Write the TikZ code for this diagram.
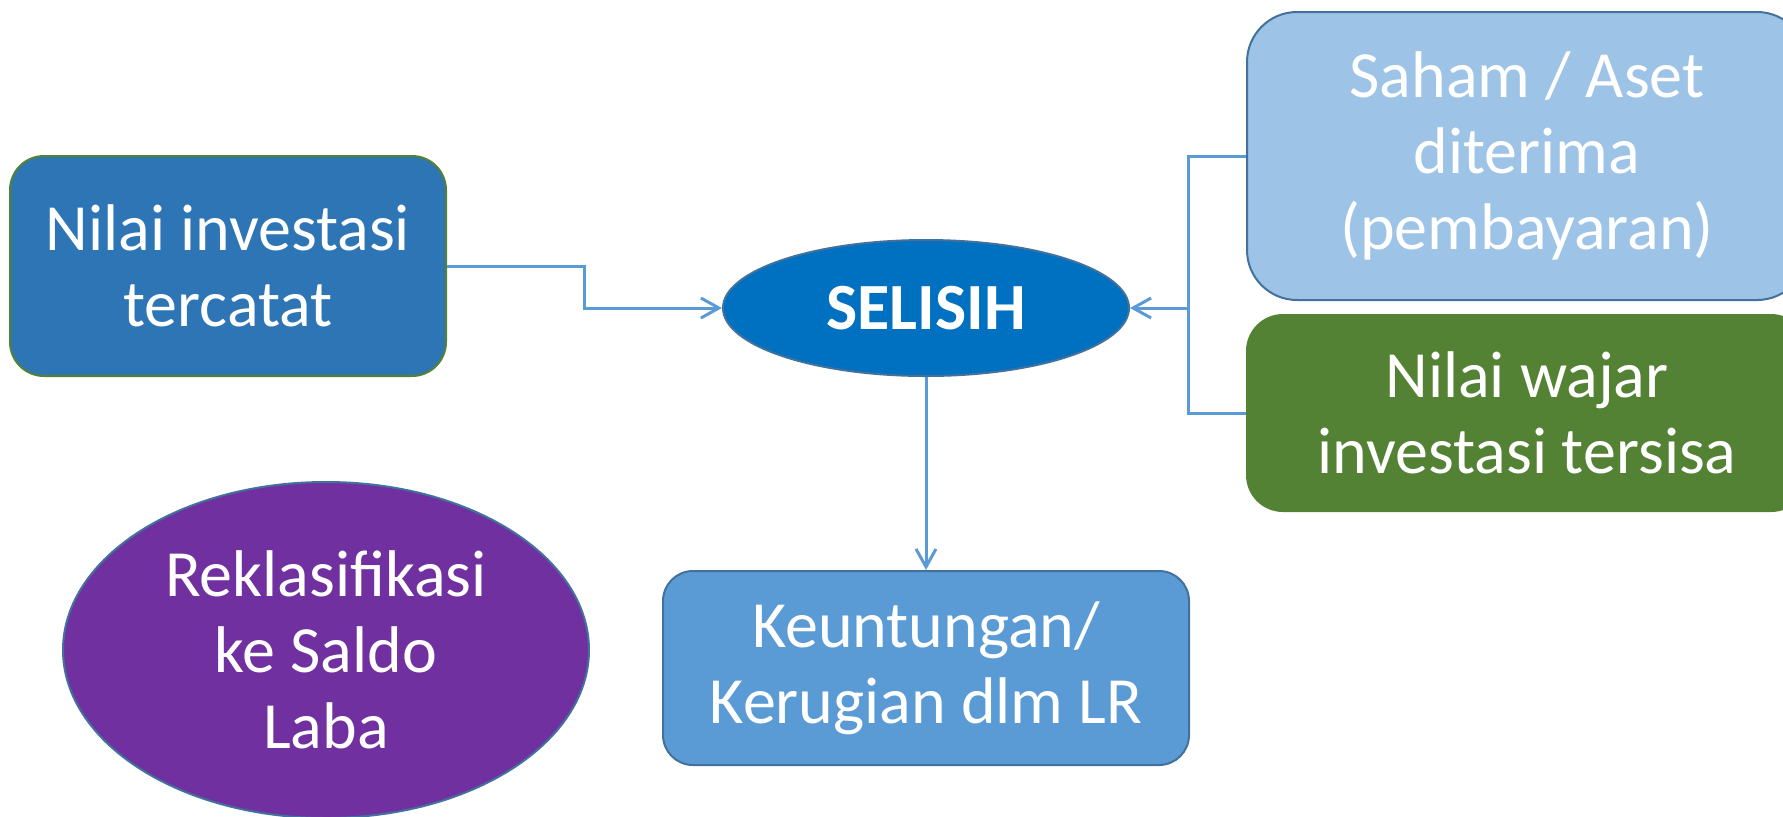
\documentclass[tikz,border=0pt]{standalone}
\usepackage{fontspec}
\setmainfont{Carlito}
\usetikzlibrary{shapes.geometric,arrows.meta}
\definecolor{boxblue}{HTML}{2E75B6}
\definecolor{selblue}{HTML}{0070C0}
\definecolor{lightblue}{HTML}{9DC3E6}
\definecolor{midblue}{HTML}{5B9BD5}
\definecolor{edgeblue}{HTML}{41719C}
\definecolor{leafgreen}{HTML}{548235}
\definecolor{plum}{HTML}{7030A0}
\begin{document}
\begin{tikzpicture}[x=0.5pt,y=-0.5pt,
    txt/.style={text=white,align=center,inner sep=0pt,font={\fontsize{33}{38}\selectfont}},
    card/.style={txt,rectangle,draw=edgeblue,line width=1pt},
    conn/.style={draw=midblue,line width=1.5pt},
    tip/.style={conn,-{Straight Barb[length=9pt,width=10pt]}}]
        \useasboundingbox (0,0) rectangle (1783,816);
        \clip (0,0) rectangle (1783,816);
        \node[card,fill=boxblue,draw=leafgreen,rounded corners=17pt,minimum width=218pt,minimum height=110pt] (tercatat) at (228,266) {Nilai investasi\\tercatat};
        \node[txt,ellipse,fill=selblue,draw=edgeblue,line width=1pt,minimum width=203pt,minimum height=68pt,font={\fontsize{33}{38}\selectfont\bfseries}] (selisih) at (926,308) {SELISIH};
        \node[card,fill=lightblue,rounded corners=25pt,minimum width=280pt,minimum height=144pt] (saham) at (1527,156) {Saham / Aset\\diterima\\(pembayaran)};
        \node[card,fill=leafgreen,draw=leafgreen,rounded corners=18pt,minimum width=280pt,minimum height=98pt] (wajar) at (1527,413) {Nilai wajar\\investasi tersisa};
        \node[card,fill=midblue,rounded corners=15pt,minimum width=263pt,minimum height=97pt] (untung) at (926,668) {Keuntungan/\\Kerugian dlm LR};
        \node[txt,ellipse,fill=plum,draw=edgeblue,line width=1pt,minimum width=263pt,minimum height=168pt] (reklas) at (326,650) {Reklasifikasi\\ke Saldo\\Laba};
        \coordinate (k1) at (584,266);
        \coordinate (k2) at (1188,308);
        \draw[tip] (tercatat.east) -- (k1) |- (selisih.west);
        \draw[conn] (saham.west) -| (k2) |- (wajar.west);
        \draw[tip] (k2) -- (selisih.east);
        \draw[tip] (selisih.south) -- (untung.north);
      \end{tikzpicture}
\end{document}
